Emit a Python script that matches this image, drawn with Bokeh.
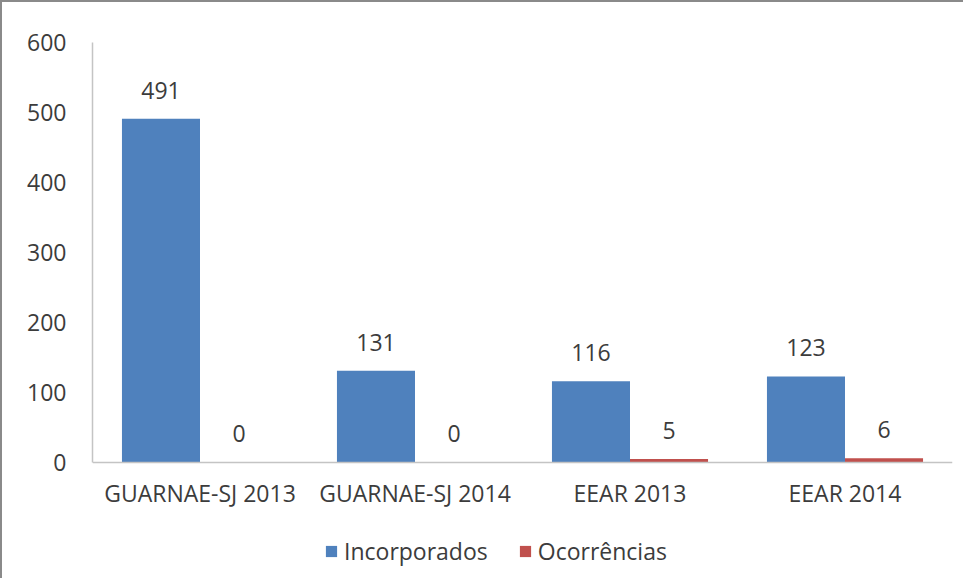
from bokeh.plotting import figure
from bokeh.models import ColumnDataSource, FactorRange, Range1d, Legend, LegendItem, LabelSet
from bokeh.core.properties import value
from bokeh.transform import dodge
from bokeh.embed import file_html
from bokeh.resources import INLINE

categories = ["GUARNAE-SJ 2013", "GUARNAE-SJ 2014", "EEAR 2013", "EEAR 2014"]
incorporados = [491, 131, 116, 123]
ocorrencias = [0, 0, 5, 6]
y_ticks = [0, 100, 200, 300, 400, 500, 600]
series_names = ["Incorporados", "Ocorrências"]

FONT = "Open Sans"
FS = "23px"
TXT = "#3c3c3c"
AXIS = "#c4c4c4"
BAR_W = 0.363

src = ColumnDataSource(dict(cat=categories, inc=incorporados, oco=ocorrencias,
                            inc_lbl=[str(v) for v in incorporados],
                            oco_lbl=[str(v) for v in ocorrencias]))

# frame runs to the bottom so that the legend can sit inside it; the value axis stops at 0
p = figure(x_range=FactorRange(*categories, range_padding=0), y_range=Range1d(-164.3, 600),
           x_axis_location="above",
           width=963, height=578, output_backend="svg", toolbar_location=None,
           min_border_left=90, min_border_top=40, min_border_right=13, min_border_bottom=3,
           styles={"border-left": "2px solid #8a8a8a", "border-top": "2px solid #8a8a8a"})
p.outline_line_color = None
p.xgrid.grid_line_color = None
p.ygrid.grid_line_color = None
p.background_fill_color = "white"
p.border_fill_color = "white"

r1 = p.vbar(x=dodge("cat", -BAR_W / 2, range=p.x_range), top="inc", bottom=0, width=BAR_W,
            source=src, fill_color="#4F81BD", line_color=None)
r2 = p.vbar(x=dodge("cat", BAR_W / 2, range=p.x_range), top="oco", bottom=0, width=BAR_W,
            source=src, fill_color="#C0504D", line_color=None)

for col, lbl, off in (("inc", "inc_lbl", -BAR_W / 2), ("oco", "oco_lbl", BAR_W / 2)):
    ls = LabelSet(x=dodge("cat", off, range=p.x_range), y=col, text=lbl, source=src,
                  text_align="center", text_baseline="alphabetic", y_offset=20,
                  text_font=value(FONT), text_font_size=value(FS), text_color=TXT)
    p.add_layout(ls)

p.yaxis.ticker = y_ticks
p.yaxis.bounds = (0, 600)
p.yaxis.axis_line_color = AXIS
p.yaxis.axis_line_width = 1.5
p.yaxis.major_tick_line_color = None
p.yaxis.minor_tick_line_color = None
p.yaxis.major_tick_out = 0
p.yaxis.minor_tick_out = 0
p.yaxis.major_label_standoff = 26
p.yaxis.major_label_text_font = FONT
p.yaxis.major_label_text_font_size = FS
p.yaxis.major_label_text_color = TXT

p.xaxis.fixed_location = 0
p.xaxis.axis_line_color = AXIS
p.xaxis.axis_line_width = 1.5
p.xaxis.major_tick_line_color = None
p.xaxis.minor_tick_line_color = None
p.xaxis.major_tick_out = 0
p.xaxis.minor_tick_out = 0
p.xaxis.major_label_standoff = -47
p.xaxis.major_label_text_font = FONT
p.xaxis.major_label_text_font_size = FS
p.xaxis.major_label_text_color = TXT

legend = Legend(items=[LegendItem(label=series_names[0], renderers=[r1]),
                       LegendItem(label=series_names[1], renderers=[r2])],
                orientation="horizontal", location=(232, 10),
                glyph_width=14, glyph_height=14, spacing=30, label_standoff=6,
                label_text_font=FONT, label_text_font_size=FS, label_text_color=TXT,
                border_line_color=None, background_fill_alpha=0, margin=0, padding=6)
p.add_layout(legend, "center")

open("out.html", "w").write(file_html(p, INLINE))
